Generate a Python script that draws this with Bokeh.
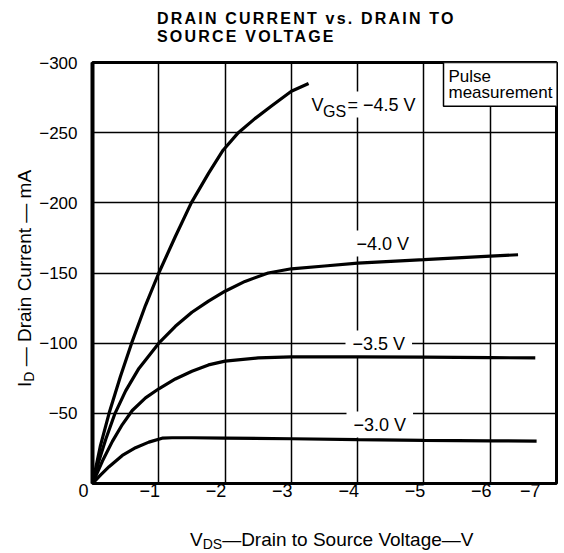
import math
from bokeh.plotting import figure
from bokeh.models import Range1d, FixedTicker, Label, Div
from bokeh.layouts import row, column
from bokeh.embed import file_html
from bokeh.resources import INLINE

# ---------------- data ----------------
vds_45 = [0, -0.12, -0.25, -0.42, -0.59, -0.8, -1.0, -1.25, -1.49, -1.75, -1.97, -2.2, -2.45, -2.7, -3.0, -3.26]
id_45 = [0, -27, -50, -76, -100, -127, -150, -176, -200, -221, -237.5, -250, -260, -269, -279.5, -285]

vds_40 = [0, -0.1, -0.2, -0.34, -0.5, -0.7, -1.0, -1.25, -1.5, -1.75, -2.0, -2.3, -2.65, -3.0, -3.5, -4.0, -4.5, -5.0, -5.5, -6.0, -6.42]
id_40 = [0, -16.5, -31.5, -50, -66, -82, -100, -112, -122, -130, -137, -144, -150, -153, -155, -157, -158.3, -159.5, -160.8, -162, -163]

vds_35 = [0, -0.15, -0.3, -0.45, -0.6, -0.8, -1.0, -1.25, -1.5, -1.75, -2.0, -2.5, -3.0, -4.0, -5.0, -6.0, -6.68]
id_35 = [0, -16, -30, -42, -52, -61, -67.5, -74.5, -80, -84.5, -87.2, -89.5, -90.3, -90.3, -90, -89.7, -89.5]

vds_30 = [0, -0.12, -0.25, -0.45, -0.65, -0.85, -1.05, -1.2, -1.5, -2.0, -3.0, -4.0, -5.0, -6.0, -6.7]
id_30 = [0, -6, -12, -20, -25.5, -29.5, -32.3, -32.6, -32.6, -32.4, -31.9, -31.3, -30.8, -30.4, -30.2]

x_ticks = [0, -1, -2, -3, -4, -5, -6, -7]
x_tick_labels = ["0", "\u22121", "\u22122", "\u22123", "\u22124", "\u22125", "\u22126", "\u22127"]
y_ticks = [0, -50, -100, -150, -200, -250, -300]
y_tick_labels = ["", "\u221250", "\u2212100", "\u2212150", "\u2212200", "\u2212250", "\u2212300"]

title_lines = ["DRAIN CURRENT vs. DRAIN TO", "SOURCE VOLTAGE"]
vgs_top_parts = ["V", "GS", "= \u22124.5 V"]
curve_labels = ["\u22124.0 V", "\u22123.5 V", "\u22123.0 V"]
box_text = "Pulse\nmeasurement"
xlabel_parts = ["V", "DS", "\u2014Drain to Source Voltage\u2014V"]
ylabel_parts = ["I", "D", " \u2014 Drain Current \u2014 mA"]

# ---------------- geometry ----------------
FONT = "Liberation Sans"
TOTAL_W = 558
TITLE_H = 50
YDIV_W = 34
P_H = 458
XDIV_H = 42

p = figure(width=TOTAL_W - YDIV_W, height=P_H,
           x_range=Range1d(0, -7), y_range=Range1d(0, -300),
           output_backend="svg", toolbar_location=None,
           min_border_left=92 - YDIV_W, min_border_right=2,
           min_border_top=62 - TITLE_H, min_border_bottom=P_H - (483 - TITLE_H))
p.background_fill_color = "white"
p.border_fill_color = "white"
p.outline_line_color = "black"
p.outline_line_width = 3

p.xaxis.ticker = FixedTicker(ticks=x_ticks)
p.yaxis.ticker = FixedTicker(ticks=y_ticks)
p.xaxis.major_label_overrides = {t: l + "\u2003" for t, l in zip(x_ticks, x_tick_labels)}
p.yaxis.major_label_overrides = dict(zip(y_ticks, y_tick_labels))
for ax in (p.xaxis, p.yaxis):
    ax.major_tick_line_color = None
    ax.minor_tick_line_color = None
    ax.major_label_text_font = FONT
    ax.major_label_text_color = "black"
p.xaxis.major_label_text_font_size = "18px"
p.yaxis.major_label_text_font_size = "17px"
p.xaxis.axis_line_color = None
p.yaxis.axis_line_color = "black"
p.yaxis.axis_line_width = 4
p.xaxis.major_label_standoff = -9
p.yaxis.major_label_standoff = 9

p.grid.grid_line_color = "black"
p.grid.grid_line_width = 1.5
p.grid.grid_line_alpha = 1.0

for xs, ys in ((vds_45, id_45), (vds_40, id_40), (vds_35, id_35), (vds_30, id_30)):
    p.line(xs, ys, line_color="black", line_width=3.2)

# page-pixel -> data helpers (frame spans page x 92..556, y 62..483)
FL, FR, FT, FB = 92.0, 556.0, 62.0, 483.0
def dx(px):
    return -7.0 * (px - FL) / (FR - FL)
def dy(py):
    return -300.0 * (FB - py) / (FB - FT)

def lab(text, px, py, size, **kw):
    l = Label(x=dx(px), y=dy(py), text=text, text_font=FONT,
              text_font_size=size, text_color="black", **kw)
    p.add_layout(l)
    return l

# VGS = -4.5 V label (white-boxed part first so the subscript stays on top)
lab(vgs_top_parts[2], 344, 117, "18px", level="underlay",
    background_fill_color="white", padding=3)
lab(vgs_top_parts[0], 311, 114, "18px", level="underlay")
lab(vgs_top_parts[1], 322.5, 119, "16px", level="underlay")

# other curve labels (anchor = corner of the padded white box)
for t, (px, py) in zip(curve_labels, [(349, 256), (345, 356), (346, 437)]):
    lab(t, px, py, "18px", level="underlay", background_fill_color="white", padding=(7, 3))

# pulse measurement box
lab(box_text, 443, 62, "17px", level="underlay", text_baseline="top",
    padding=(5, 4), text_line_height=0.88,
    background_fill_color="white", border_line_color="black", border_line_width=1.5)

# ---------------- HTML text blocks (title and axis titles with real subscripts) ----------------
BASE = "position:absolute;white-space:nowrap;font-family:'Liberation Sans';font-size:19px;line-height:19px;color:black;"
SUB = "position:relative;font-size:14px;"
TSTYLE = ("position:absolute;left:157px;white-space:nowrap;font-family:'Liberation Sans';"
          "font-weight:bold;font-size:16px;line-height:normal;letter-spacing:2.2px;color:black;")

t_html = (
    f'<div style="position:relative;width:{TOTAL_W}px;height:{TITLE_H}px;">'
    f'<div style="{TSTYLE}top:10px;">{title_lines[0]}</div>'
    f'<div style="{TSTYLE}top:28px;">{title_lines[1]}</div></div>'
)
y_html = (
    f'<div style="position:relative;width:{YDIV_W}px;height:{P_H}px;">'
    f'<div style="{BASE}left:15px;top:{387 - TITLE_H}px;transform:rotate(-90deg);transform-origin:0 0;">'
    f'{ylabel_parts[0]}<span style="{SUB}top:3px;">{ylabel_parts[1]}</span>{ylabel_parts[2]}</div></div>'
)
x_html = (
    f'<div style="position:relative;width:{TOTAL_W}px;height:{XDIV_H}px;">'
    f'<div style="{BASE}left:190px;top:22px;">'
    f'{xlabel_parts[0]}<span style="{SUB}top:3px;">{xlabel_parts[1]}</span>{xlabel_parts[2]}</div></div>'
)
tdiv = Div(text=t_html, width=TOTAL_W, height=TITLE_H, margin=0)
ydiv = Div(text=y_html, width=YDIV_W, height=P_H, margin=0)
xdiv = Div(text=x_html, width=TOTAL_W, height=XDIV_H, margin=0)

layout = column(tdiv, row(ydiv, p, spacing=0), xdiv, spacing=0)

open("out.html", "w").write(file_html(layout, INLINE))
